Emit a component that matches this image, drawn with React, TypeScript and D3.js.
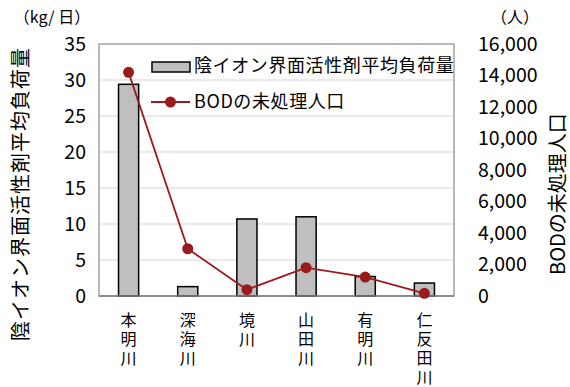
import React from "react";
import * as d3 from "d3";

const categories = ["本明川", "深海川", "境川", "山田川", "有明川", "仁反田川"];
const loadValues = [29.4, 1.3, 10.7, 11.0, 2.7, 1.8];
const popValues = [14200, 3000, 400, 1800, 1200, 170];
const leftTicks = [0, 5, 10, 15, 20, 25, 30, 35];
const rightTicks = [0, 2000, 4000, 6000, 8000, 10000, 12000, 14000, 16000];
const barName = "陰イオン界面活性剤平均負荷量";
const lineName = "BODの未処理人口";
const leftTitle = "陰イオン界面活性剤平均負荷量";
const rightTitle = "BODの未処理人口";
const leftUnit = "（kg/ 日）";
const rightUnit = "（人）";

const W = 570, H = 387;
const M = { left: 99, right: 454, top: 44, bottom: 296 };
const FONT = "'Noto Sans CJK JP', 'Noto Sans', sans-serif";
const RED = "#9b1a1e";

export default function App() {
  const x = d3.scaleBand<string>().domain(categories).range([M.left, M.right]).paddingInner(0.66).paddingOuter(0.33);
  const yL = d3.scaleLinear().domain([0, 35]).range([M.bottom, M.top]);
  const yR = d3.scaleLinear().domain([0, 16000]).range([M.bottom, M.top]);
  const fmt = d3.format(",");
  const line = d3.line<number>()
    .x((_, i) => (x(categories[i]) as number) + x.bandwidth() / 2)
    .y((d) => yR(d));

  return (
    <svg width={W} height={H} style={{ position: "absolute", left: 0, top: 0, fontFamily: FONT }}>
      <rect x={0} y={0} width={W} height={H} fill="#fff" />
      {leftTicks.filter((t) => t > 0 && t < 35).map((t) => (
        <line key={t} x1={M.left} x2={M.right} y1={yL(t)} y2={yL(t)} stroke="#e3e3e3" strokeWidth={1.5} />
      ))}
      <rect x={M.left} y={M.top} width={M.right - M.left} height={M.bottom - M.top} fill="none" stroke="#8a8a8a" strokeWidth={1.2} />
      {categories.map((c, i) => (
        <rect key={c} x={x(c)} y={yL(loadValues[i])} width={x.bandwidth()} height={M.bottom - yL(loadValues[i])}
          fill="#bfbfbf" stroke="#000" strokeWidth={1.5} />
      ))}
      <line x1={M.left} x2={M.right} y1={M.bottom} y2={M.bottom} stroke="#7f7f7f" strokeWidth={1.5} />
      <path d={line(popValues) || ""} fill="none" stroke={RED} strokeWidth={1.8} />
      {popValues.map((v, i) => (
        <circle key={i} cx={(x(categories[i]) as number) + x.bandwidth() / 2} cy={yR(v)} r={5.5} fill={RED} />
      ))}
      {leftTicks.map((t) => (
        <text key={t} x={86} y={yL(t)} dy="0.35em" textAnchor="end" fontSize={19.5} fill="#000">{t}</text>
      ))}
      {rightTicks.map((t) => (
        <text key={t} x={478} y={yR(t)} dy="0.35em" textAnchor="start" fontSize={19.5} fill="#000">{fmt(t)}</text>
      ))}
      <text x={52} y={17} dy="0.35em" textAnchor="middle" fontSize={16} fill="#000">{leftUnit}</text>
      <text x={515} y={17} dy="0.35em" textAnchor="middle" fontSize={16} fill="#000">{rightUnit}</text>
      <text transform={`translate(21,194) rotate(-90)`} textAnchor="middle" dy="0.35em" fontSize={20} letterSpacing={1} fill="#000">{leftTitle}</text>
      <text transform={`translate(558,194) rotate(-90)`} textAnchor="middle" dy="0.35em" fontSize={20} fill="#000">{rightTitle}</text>
      {categories.map((c) => (
        <text key={c} x={(x(c) as number) + x.bandwidth() / 2} y={312} fontSize={16} letterSpacing={3}
          style={{ writingMode: "vertical-rl" as any }} fill="#000">{c}</text>
      ))}
      <rect x={152} y={62} width={38} height={10} fill="#bfbfbf" stroke="#000" strokeWidth={1.5} />
      <text x={194} y={66} dy="0.35em" fontSize={18} letterSpacing={0.6} fill="#000">{barName}</text>
      <line x1={151} x2={190} y1={102} y2={102} stroke={RED} strokeWidth={1.8} />
      <circle cx={170.5} cy={102} r={5.5} fill={RED} />
      <text x={194} y={102} dy="0.35em" fontSize={18} letterSpacing={0.6} fill="#000">{lineName}</text>
    </svg>
  );
}
